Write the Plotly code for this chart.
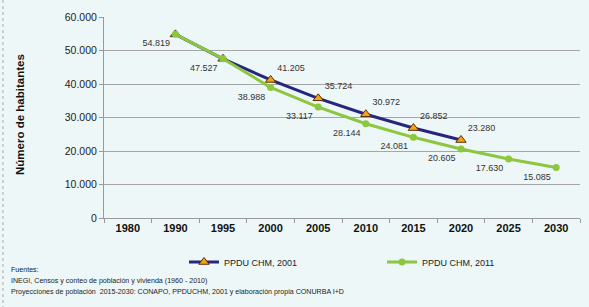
import plotly.graph_objects as go

years = ["1980", "1990", "1995", "2000", "2005", "2010", "2015", "2020", "2025", "2030"]
ppdu_2001 = [None, 54819, 47527, 41205, 35724, 30972, 26852, 23280, None, None]
ppdu_2011 = [None, 54819, 47527, 38988, 33117, 28144, 24081, 20605, 17630, 15085]
yticks = [0, 10000, 20000, 30000, 40000, 50000, 60000]

def fmt(v):
    return "" if v is None else f"{v:,}".replace(",", ".")

text_2001 = ["", "", ""] + [fmt(v) for v in ppdu_2001[3:]]
text_2011 = [fmt(v) for v in ppdu_2011]

FONT = "Arial, Liberation Sans, sans-serif"
L, R, T, B = 104, 9, 17, 89
W, H = 589, 307
PW, PH = W - L - R, H - T - B

def px(x):
    return (x - L) / PW

def py(y):
    return (T + PH - y) / PH

fig = go.Figure()
fig.add_trace(go.Scatter(
    x=years, y=ppdu_2001, name="PPDU CHM, 2001", mode="lines+markers+text",
    line=dict(color="#26267f", width=3),
    marker=dict(symbol="triangle-up", size=9, color="#f5a21b",
                line=dict(color="#5a3000", width=1)),
    text=text_2001, textposition="top right",
    textfont=dict(family=FONT, size=9, color="#333333"),
    connectgaps=False,
))
fig.add_trace(go.Scatter(
    x=years, y=ppdu_2011, name="PPDU CHM, 2011", mode="lines+markers+text",
    line=dict(color="#8dc63f", width=3),
    marker=dict(symbol="circle", size=7, color="#8dc63f"),
    text=text_2011, textposition="bottom left",
    textfont=dict(family=FONT, size=9, color="#333333"),
))

fig.update_layout(
    width=W, height=H,
    margin=dict(l=L, r=R, t=T, b=B, autoexpand=False),
    paper_bgcolor="#edf7f8", plot_bgcolor="#edf7f8",
    font=dict(family=FONT, color="#222222"),
    separators=",.",
    showlegend=True,
    legend=dict(orientation="h", x=px(184), y=py(262), xanchor="left", yanchor="middle",
                entrywidth=153, entrywidthmode="pixels",
                font=dict(family=FONT, size=9, color="#222222"),
                bgcolor="rgba(0,0,0,0)", itemwidth=30),
    xaxis=dict(type="category", categoryorder="array", categoryarray=years,
               tickson="boundaries", ticks="outside", ticklen=4, tickcolor="#999999",
               showgrid=False, showline=True, linecolor="#999999", linewidth=1,
               tickfont=dict(family=FONT, size=11, color="#111111", weight="bold"),
               range=[-0.5, 9.5], fixedrange=True),
    yaxis=dict(range=[0, 60000], tickvals=yticks, tickformat=",d",
               ticks="outside", ticklen=4, tickcolor="#999999",
               showgrid=True, gridcolor="#a6a6a6", gridwidth=1.3,
               showline=True, linecolor="#999999", linewidth=1,
               zeroline=False,
               tickfont=dict(family=FONT, size=10.5, color="#222222")),
)

fig.add_annotation(x=px(20), y=py(115), xref="paper", yref="paper",
                   xanchor="center", yanchor="middle",
                   text="<b>Número de habitantes</b>", textangle=-90, showarrow=False,
                   font=dict(family=FONT, size=11.5, color="#111111"))

footer = ["Fuentes:",
          "INEGI, Censos y conteo de población y vivienda (1960 - 2010)",
          "Proyecciones de población  2015-2030: CONAPO, PPDUCHM, 2001 y elaboración propia CONURBA I+D"]
for i, line in enumerate(footer):
    fig.add_annotation(x=px(9), y=py(270 + 11 * i), xref="paper", yref="paper",
                       text=line, showarrow=False, xanchor="left", yanchor="middle",
                       font=dict(family=FONT, size=7.1, color="#222222"))

fig.add_shape(type="line", xref="paper", yref="paper",
              x0=px(3), x1=px(3), y0=py(0), y1=py(307),
              line=dict(color="#aaaaaa", width=1, dash="dot"))

fig.write_html("out.html", config={"displayModeBar": False},
               post_script="document.body.style.margin='0';document.body.style.padding='0';")
